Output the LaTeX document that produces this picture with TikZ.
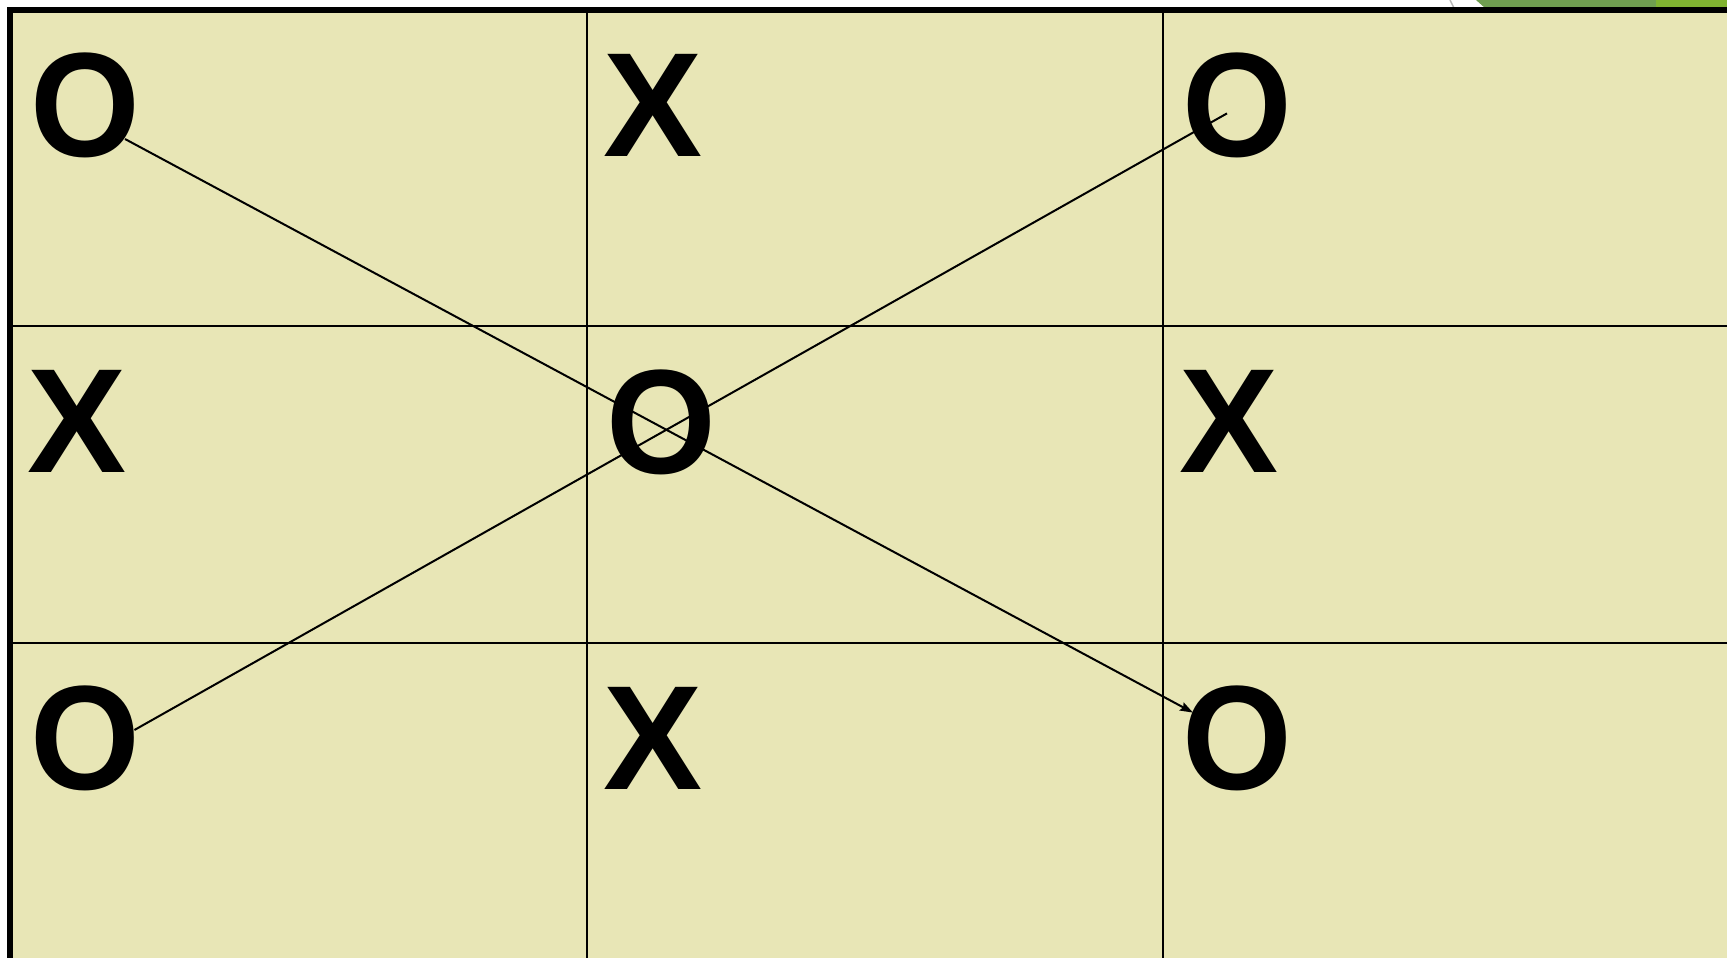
\documentclass[tikz,border=0pt]{standalone}
\usepackage{fontspec}
\setmainfont{Liberation Sans}
\usetikzlibrary{arrows.meta}
\definecolor{cellfill}{RGB}{232,230,182}
\definecolor{greenA}{RGB}{111,158,80}
\definecolor{greenB}{RGB}{128,179,49}
\tikzset{
  glyph/.style={inner sep=0pt, outer sep=0pt, font=\fontsize{148.5}{154}\selectfont\bfseries},
  oglyph/.style={glyph, xscale=0.95},
  gridline/.style={line width=2.7pt, black},
  borderline/.style={line width=6pt, black},
  diag/.style={line width=2pt, black},
}
\begin{document}
\begin{tikzpicture}[x=1pt,y=-1pt]
\useasboundingbox (0,0) rectangle (1727,958);
\begin{scope}
\clip (0,0) rectangle (1727,958);
\fill[white] (0,0) rectangle (1727,958);
% slide decoration above the table
\fill[greenA] (1476,0) -- (1727,0) -- (1727,8) -- (1485,8) -- cycle;
\fill[greenB] (1656,0) rectangle (1727,8);
\draw[gray!55, line width=1.5pt] (1450,0) -- (1454,8);
% table
\fill[cellfill] (10,10) rectangle (1740,960);
\draw[gridline] (587,10) -- (587,960);
\draw[gridline] (1163,10) -- (1163,960);
\draw[gridline] (10,326) -- (1740,326);
\draw[gridline] (10,643) -- (1740,643);
\draw[gridline] (10,959.5) -- (1740,959.5);
\draw[borderline] (10,966) -- (10,10) -- (1740,10);
% marks
\node[oglyph] (o11) at (85,105.5) {O};
\node[glyph] (x12) at (653,105) {X};
\node[oglyph] (o13) at (1237,105.5) {O};
\node[glyph] (x21) at (77.5,421) {X};
\node[oglyph] (o22) at (661,422.5) {O};
\node[glyph] (x23) at (1229,421) {X};
\node[oglyph] (o31) at (85,738.5) {O};
\node[glyph] (x32) at (653,738) {X};
\node[oglyph] (o33) at (1237,738.5) {O};
% connector end points
\coordinate (c1s) at (125,139);
\coordinate (c1e) at (1193,712.6);
\coordinate (c2s) at (134.4,730);
\coordinate (c2e) at (1227,113.4);
\draw[diag, -{Stealth[length=13pt,width=9pt,inset=2pt]}] (c1s) -- (c1e);
\draw[diag] (c2s) -- (c2e);
\end{scope}
\end{tikzpicture}
\end{document}
